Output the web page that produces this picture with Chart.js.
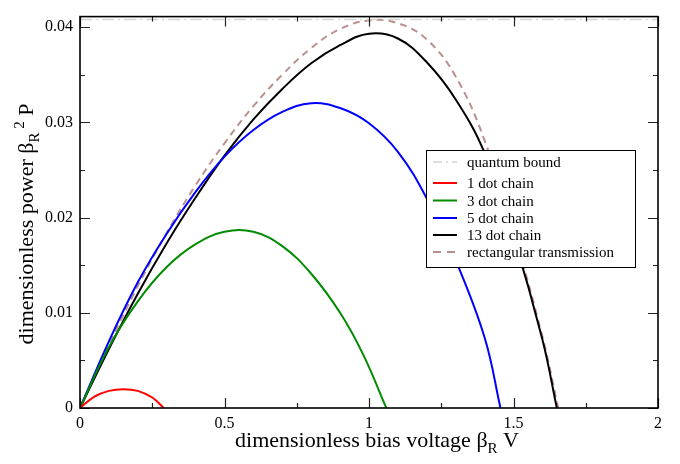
<!DOCTYPE html>
<html><head><meta charset="utf-8">
<script src="https://cdn.jsdelivr.net/npm/chart.js@4.4.0/dist/chart.umd.min.js"></script>
<style>html,body{margin:0;padding:0;background:#fff}</style>
</head><body>
<canvas id="c" width="680" height="464"></canvas>
<script>
// ---- data ----
const quantumV = [0, 2];
const quantumP = [0.0408, 0.0408];

const dot1V = [0, 0.05, 0.1, 0.15, 0.2, 0.25, 0.29];
const dot1P = [0, 0.0012, 0.0018, 0.00198, 0.0018, 0.0011, 0];

const dot3V = [0, 0.1, 0.2, 0.3, 0.4, 0.5, 0.6, 0.7, 0.8, 0.9, 0.98, 1.06];
const dot3P = [0, 0.0064, 0.0112, 0.0148, 0.0172, 0.0185, 0.0185, 0.0170, 0.0141, 0.0100, 0.0056, 0];

const dot5V = [0, 0.1, 0.2, 0.3, 0.4, 0.5, 0.6, 0.7, 0.8, 0.9, 1.0, 1.1, 1.2, 1.3, 1.4, 1.455];
const dot5P = [0, 0.0070, 0.0132, 0.0183, 0.0227, 0.0264, 0.0292, 0.0311, 0.0320, 0.0315, 0.0299, 0.0269, 0.0220, 0.0155, 0.0074, 0];

const dot13V = [0, 0.1, 0.2, 0.3, 0.4, 0.5, 0.6, 0.7, 0.8, 0.9, 1.0, 1.1, 1.2, 1.3, 1.4, 1.5, 1.6, 1.65];
const dot13P = [0, 0.0062, 0.0120, 0.0173, 0.0221, 0.0265, 0.0303, 0.0335, 0.0362, 0.0381, 0.0393, 0.0388, 0.0363, 0.0324, 0.0268, 0.0180, 0.0072, 0];

const rectV = [0, 0.1, 0.2, 0.3, 0.4, 0.5, 0.6, 0.7, 0.8, 0.9, 1.0, 1.1, 1.2, 1.3, 1.4, 1.5, 1.6, 1.655];
const rectP = [0, 0.0066, 0.0128, 0.0184, 0.0234, 0.0278, 0.0317, 0.0350, 0.0378, 0.0398, 0.0407, 0.0404, 0.0387, 0.0348, 0.0281, 0.0185, 0.0075, 0];

const xMajorTicks = [0, 0.5, 1, 1.5, 2];
const xMinorTicks = [0.25, 0.75, 1.25, 1.75];
const yMajorTicks = [0, 0.01, 0.02, 0.03, 0.04];
const yMinorTicks = [0.005, 0.015, 0.025, 0.035];

const seriesLabels = ['quantum bound', '1 dot chain', '3 dot chain', '5 dot chain', '13 dot chain', 'rectangular transmission'];

// ---- build ----
const pts = (xs, ys) => xs.map((x, i) => ({x, y: ys[i]}));
const SERIF = "'Liberation Serif', 'DejaVu Serif', serif";

function ds(label, xs, ys, color, dash, width) {
  return {label, data: pts(xs, ys), borderColor: color, backgroundColor: color,
    borderWidth: width, borderDash: dash, pointRadius: 0, fill: false,
    tension: 0.4, showLine: true};
}

const datasets = [
  ds(seriesLabels[0], quantumV, quantumP, '#d4d4d4', [12, 4, 2, 4], 1.5),
  ds(seriesLabels[1], dot1V, dot1P, '#ff0000', [], 2),
  ds(seriesLabels[2], dot3V, dot3P, '#008b00', [], 2),
  ds(seriesLabels[3], dot5V, dot5P, '#0000ff', [], 2),
  ds(seriesLabels[4], dot13V, dot13P, '#000000', [], 2),
  ds(seriesLabels[5], rectV, rectP, '#bc8f8f', [7, 5], 2)
];

const decor = {
  id: 'decor',
  afterDraw(chart) {
    const ctx = chart.ctx, ca = chart.chartArea;
    const xs = chart.scales.x, ys = chart.scales.y;
    ctx.save();
    // inward ticks on all four sides
    ctx.strokeStyle = '#222';
    ctx.lineWidth = 1.2;
    const xt = (v, len) => {
      const p = Math.round(xs.getPixelForValue(v)) + 0.5;
      ctx.beginPath();
      ctx.moveTo(p, ca.bottom); ctx.lineTo(p, ca.bottom - len);
      ctx.moveTo(p, ca.top); ctx.lineTo(p, ca.top + len);
      ctx.stroke();
    };
    const yt = (v, len) => {
      const p = Math.round(ys.getPixelForValue(v)) + 0.5;
      ctx.beginPath();
      ctx.moveTo(ca.left, p); ctx.lineTo(ca.left + len, p);
      ctx.moveTo(ca.right, p); ctx.lineTo(ca.right - len, p);
      ctx.stroke();
    };
    xMajorTicks.forEach(v => xt(v, 10));
    xMinorTicks.forEach(v => xt(v, 5));
    yMajorTicks.forEach(v => yt(v, 10));
    yMinorTicks.forEach(v => yt(v, 5));
    // frame
    ctx.strokeStyle = '#000';
    ctx.lineWidth = 1.6;
    ctx.strokeRect(ca.left, ca.top, ca.right - ca.left, ca.bottom - ca.top);

    // axis titles
    ctx.fillStyle = '#000';
    ctx.textBaseline = 'alphabetic';
    ctx.textAlign = 'left';
    const big = '22px ' + SERIF, small = '15px ' + SERIF;
    function drawParts(parts, cx, cy) {
      let total = 0;
      parts.forEach(p => { ctx.font = p.f; p.w = ctx.measureText(p.t).width; total += p.w; });
      let x = cx - total / 2;
      parts.forEach(p => { ctx.font = p.f; ctx.fillText(p.t, x, cy + p.dy); x += p.w; });
    }
    drawParts([
      {t: 'dimensionless bias voltage \u03B2', f: big, dy: 0},
      {t: 'R', f: small, dy: 6},
      {t: ' V', f: big, dy: 0}
    ], 377, 447);
    ctx.save();
    ctx.translate(33, 224);
    ctx.rotate(-Math.PI / 2);
    drawParts([
      {t: 'dimensionless power \u03B2', f: big, dy: 0},
      {t: 'R', f: small, dy: 6},
      {t: ' 2', f: small, dy: -9},
      {t: ' P', f: big, dy: 0}
    ], 0, 0);
    ctx.restore();

    // legend
    const lx = 426, ly = 150, lw = 209, lh = 117;
    ctx.fillStyle = '#fff';
    ctx.fillRect(lx, ly, lw, lh);
    ctx.strokeStyle = '#000';
    ctx.lineWidth = 1;
    ctx.strokeRect(lx + 0.5, ly + 0.5, lw, lh);
    const rows = [162, 183, 200.5, 218, 235, 252];
    chart.data.datasets.forEach((d, i) => {
      const y = rows[i];
      ctx.save();
      ctx.strokeStyle = d.borderColor;
      ctx.lineWidth = d.borderWidth;
      ctx.setLineDash(d.borderDash && d.borderDash.length ? (i === 5 ? [8, 6] : [9, 4, 2, 4]) : []);
      ctx.beginPath();
      ctx.moveTo(433, y); ctx.lineTo(457, y);
      ctx.stroke();
      ctx.restore();
      ctx.fillStyle = '#000';
      ctx.font = '15px ' + SERIF;
      ctx.fillText(d.label, 467, y + 5);
    });
    ctx.restore();
  }
};

new Chart(document.getElementById('c'), {
  type: 'scatter',
  data: {datasets},
  options: {
    responsive: false,
    animation: false,
    devicePixelRatio: 1,
    layout: {padding: {top: 15, right: 22, left: 0, bottom: 0}},
    plugins: {legend: {display: false}, tooltip: {enabled: false}},
    scales: {
      x: {
        type: 'linear', min: 0, max: 2,
        afterFit: s => { s.height = 56; },
        grid: {display: false, drawTicks: false},
        border: {display: false},
        afterBuildTicks: s => { s.ticks = xMajorTicks.map(v => ({value: v})); },
        ticks: {
          font: {family: SERIF, size: 16}, color: '#000', padding: 6,
          maxRotation: 0, autoSkip: false,
          callback: v => String(v)
        }
      },
      y: {
        type: 'linear', min: 0, max: 0.0411,
        afterFit: s => { s.width = 80; },
        grid: {display: false, drawTicks: false},
        border: {display: false},
        afterBuildTicks: s => { s.ticks = yMajorTicks.map(v => ({value: v})); },
        ticks: {
          font: {family: SERIF, size: 16}, color: '#000', padding: 7,
          autoSkip: false,
          callback: v => (v === 0 ? '0' : v.toFixed(2))
        }
      }
    }
  },
  plugins: [decor]
});
</script>
</body></html>
